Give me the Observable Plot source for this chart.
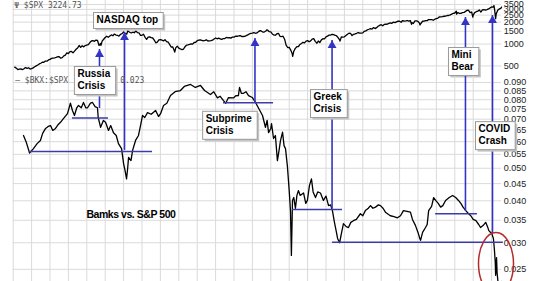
<!DOCTYPE html>
<html><head><meta charset="utf-8">
<script src="https://cdn.jsdelivr.net/npm/d3@7"></script>
<script src="https://cdn.jsdelivr.net/npm/@observablehq/plot@0.6"></script>
<style>
body{margin:0;background:#fff;}
#chart{position:relative;width:536px;height:281px;overflow:hidden;background:#fff;}
#chart svg{display:block;}
</style></head><body><div id="chart"></div>
<script>
// ---------- DATA ----------
const gridYears = d3.range(1994, 2021);
const spxTicks = [500, 1000, 1500, 2000, 2500, 3000, 3500];
const ratioTicks = [0.025, 0.030, 0.035, 0.040, 0.045, 0.050, 0.055, 0.060, 0.065, 0.070, 0.075, 0.080, 0.085, 0.090];

// S&P 500 monthly closes, one row per year starting 1994
const spxFirstYear = 1994;
const spxMonthly = [
  [481.6,467.1,445.8,450.9,456.5,444.3,458.3,475.5,462.7,472.4,453.7,459.3],
  [470.4,487.4,500.7,514.7,533.4,544.8,562.1,561.9,584.4,581.5,605.4,615.9],
  [636.0,640.4,645.5,654.2,669.1,670.6,639.9,651.9,687.3,705.3,757.0,740.7],
  [786.2,790.8,757.1,801.3,848.3,885.1,954.3,899.5,947.3,914.6,955.4,970.4],
  [980.3,1049.3,1101.8,1111.8,1090.8,1133.8,1120.7,957.3,1017.0,1098.7,1163.6,1229.2],
  [1279.6,1238.3,1286.4,1335.2,1301.8,1372.7,1328.7,1320.4,1282.7,1362.9,1388.9,1469.3],
  [1394.5,1366.4,1498.6,1452.4,1420.6,1454.6,1430.8,1517.7,1436.5,1429.4,1315.0,1320.3],
  [1366.0,1239.9,1160.3,1249.5,1255.8,1224.4,1211.2,1133.6,1040.9,1059.8,1139.5,1148.1],
  [1130.2,1106.7,1147.4,1076.9,1067.1,989.8,911.6,916.1,815.3,885.8,936.3,879.8],
  [855.7,841.2,848.2,916.9,963.6,974.5,990.3,1008.0,996.0,1050.7,1058.2,1111.9],
  [1131.1,1144.9,1126.2,1107.3,1120.7,1140.8,1101.7,1104.2,1114.6,1130.2,1173.8,1211.9],
  [1181.3,1203.6,1180.6,1156.9,1191.5,1191.3,1234.2,1220.3,1228.8,1207.0,1249.5,1248.3],
  [1280.1,1280.7,1294.8,1310.6,1270.1,1270.2,1276.7,1303.8,1335.9,1377.9,1400.6,1418.3],
  [1438.2,1406.8,1420.9,1482.4,1530.6,1503.4,1455.3,1473.9,1526.8,1549.4,1481.1,1468.4],
  [1378.6,1330.6,1322.7,1385.6,1400.4,1280.0,1267.4,1282.8,1166.4,968.8,896.2,903.3],
  [825.9,735.1,797.9,872.8,919.1,919.3,987.5,1020.6,1057.1,1036.2,1095.6,1115.1],
  [1073.9,1104.5,1169.4,1186.7,1089.4,1030.7,1101.6,1049.3,1141.2,1183.3,1180.6,1257.6],
  [1286.1,1327.2,1325.8,1363.6,1345.2,1320.6,1292.3,1218.9,1131.4,1253.3,1247.0,1257.6],
  [1312.4,1365.7,1408.5,1397.9,1310.3,1362.2,1379.3,1406.6,1440.7,1412.2,1416.2,1426.2],
  [1498.1,1514.7,1569.2,1597.6,1630.7,1606.3,1685.7,1633.0,1681.6,1756.5,1805.8,1848.4],
  [1782.6,1859.5,1872.3,1883.9,1923.6,1960.2,1930.7,2003.4,1972.3,2018.1,2067.6,2058.9],
  [1995.0,2104.5,2067.9,2085.5,2107.4,2063.1,2103.8,1972.2,1920.0,2079.4,2080.4,2043.9],
  [1940.2,1932.2,2059.7,2065.3,2096.9,2098.9,2173.6,2170.9,2168.3,2126.2,2198.8,2238.8],
  [2278.9,2363.6,2362.7,2384.2,2411.8,2423.4,2470.3,2471.7,2519.4,2575.3,2647.6,2673.6],
  [2823.8,2713.8,2640.9,2648.1,2705.3,2718.4,2816.3,2901.5,2914.0,2711.7,2760.2,2506.9],
  [2704.1,2784.5,2834.4,2945.8,2752.1,2941.8,2980.4,2926.5,2976.7,3037.6,3141.0,3230.8],
  [3225.5,2954.2,2584.6,2912.4,3044.3,3100.3]
];
// intra-month extremes (decimal year, value)
const spxExtremeDates  = [1998.77, 2000.23, 2002.78, 2007.78, 2009.19, 2010.50, 2011.76, 2015.65, 2016.11, 2018.10, 2018.72, 2018.98, 2020.13, 2020.22, 2020.54];
const spxExtremeValues = [959, 1527, 777, 1565, 677, 1022, 1099, 1867, 1829, 2581, 2931, 2351, 3386, 2237, 3224.73];

// $BKX:$SPX ratio (decimal year, value)
const ratioYears = [1994.56,1994.70,1994.89,1995.10,1995.30,1995.48,1995.60,1995.76,1995.90,1996.03,1996.15,1996.30,1996.45,1996.57,1996.75,1996.95,1997.11,1997.22,1997.33,1997.45,1997.55,1997.70,1997.82,1997.95,1998.04,1998.20,1998.31,1998.45,1998.58,1998.62,1998.75,1998.90,1999.02,1999.18,1999.30,1999.45,1999.60,1999.72,1999.89,2000.00,2000.08,2000.16,2000.22,2000.27,2000.40,2000.49,2000.65,2000.81,2000.92,2001.03,2001.15,2001.30,2001.50,2001.74,2001.90,2002.01,2002.17,2002.35,2002.55,2002.80,2003.09,2003.30,2003.64,2003.90,2004.18,2004.40,2004.72,2004.90,2005.10,2005.25,2005.43,2005.55,2005.70,2005.97,2006.10,2006.24,2006.30,2006.40,2006.52,2006.65,2006.79,2007.00,2007.17,2007.33,2007.55,2007.71,2007.80,2007.88,2008.00,2008.04,2008.15,2008.25,2008.36,2008.45,2008.53,2008.64,2008.72,2008.80,2008.90,2008.96,2009.00,2009.07,2009.12,2009.18,2009.25,2009.34,2009.42,2009.50,2009.60,2009.78,2009.90,2009.99,2010.10,2010.21,2010.30,2010.43,2010.55,2010.70,2010.86,2011.00,2011.14,2011.25,2011.35,2011.46,2011.55,2011.63,2011.74,2011.85,2011.95,2012.10,2012.22,2012.35,2012.49,2012.65,2012.87,2013.00,2013.14,2013.30,2013.42,2013.55,2013.69,2013.85,2013.96,2014.10,2014.23,2014.40,2014.50,2014.70,2014.88,2015.05,2015.21,2015.40,2015.59,2015.70,2015.86,2016.00,2016.10,2016.14,2016.25,2016.41,2016.50,2016.58,2016.74,2016.85,2016.96,2017.10,2017.23,2017.35,2017.50,2017.70,2017.88,2018.05,2018.20,2018.33,2018.45,2018.60,2018.75,2018.87,2019.00,2019.15,2019.30,2019.40,2019.55,2019.68,2019.78,2019.85,2019.95,2020.01,2020.10,2020.15,2020.20,2020.22,2020.25,2020.27,2020.30,2020.35,2020.45,2020.54];
const ratioValues = [0.0626,0.0600,0.0555,0.0572,0.0592,0.0605,0.0635,0.0657,0.0666,0.0670,0.0648,0.0657,0.0675,0.0685,0.0705,0.0727,0.0781,0.0743,0.0718,0.0756,0.0769,0.0757,0.0785,0.0756,0.0757,0.0781,0.0785,0.0763,0.0757,0.0708,0.0662,0.0694,0.0685,0.0648,0.0670,0.0638,0.0626,0.0592,0.0572,0.0516,0.0492,0.0465,0.0499,0.0539,0.0527,0.0565,0.0605,0.0626,0.0670,0.0718,0.0708,0.0732,0.0724,0.0743,0.0713,0.0727,0.0769,0.0781,0.0823,0.0845,0.0852,0.0876,0.0888,0.0870,0.0882,0.0852,0.0829,0.0845,0.0810,0.0819,0.0795,0.0781,0.0812,0.0810,0.0822,0.0823,0.0870,0.0836,0.0836,0.0845,0.0823,0.0812,0.0785,0.0756,0.0718,0.0662,0.0694,0.0638,0.0657,0.0679,0.0613,0.0626,0.0527,0.0565,0.0605,0.0640,0.0584,0.0572,0.0509,0.0460,0.0429,0.0374,0.0275,0.0401,0.0409,0.0380,0.0415,0.0429,0.0415,0.0422,0.0393,0.0401,0.0444,0.0465,0.0425,0.0409,0.0425,0.0422,0.0401,0.0413,0.0387,0.0389,0.0374,0.0345,0.0326,0.0309,0.0300,0.0322,0.0342,0.0335,0.0333,0.0345,0.0349,0.0352,0.0366,0.0361,0.0374,0.0380,0.0387,0.0380,0.0383,0.0389,0.0387,0.0380,0.0370,0.0364,0.0361,0.0359,0.0356,0.0361,0.0374,0.0372,0.0370,0.0352,0.0338,0.0322,0.0309,0.0305,0.0322,0.0333,0.0340,0.0374,0.0385,0.0409,0.0401,0.0393,0.0383,0.0387,0.0401,0.0409,0.0415,0.0409,0.0401,0.0393,0.0383,0.0374,0.0366,0.0361,0.0352,0.0349,0.0340,0.0333,0.0338,0.0345,0.0335,0.0326,0.0322,0.0320,0.0309,0.0288,0.0262,0.0240,0.0257,0.0271,0.0244,0.0229,0.0227,0.0230];

// event arrows
const arrowYears      = [1998.69, 2000.05, 2007.14, 2011.33, 2018.58, 2020.05];
const arrowRatioStart = [0.0753, 0.0565, 0.0785, 0.0378, 0.0372, 0.0319];
const arrowSpxTip     = [842, 1443, 1193, 1120, 2320, 2471];

// horizontal support lines on the ratio
const supportStart = [1994.89, 1997.22, 2005.43, 2009.18, 2011.35, 2016.96];
const supportEnd   = [2001.57, 1999.18, 2008.15, 2011.90, 2020.64, 2019.23];
const supportLevel = [0.0561, 0.0706, 0.0784, 0.0377, 0.0301, 0.0366];

// callout labels
const topLabelText  = ["NASDAQ top", "Mini\nBear"];
const topLabelYear  = [1998.53, 2017.82];
const topLabelSpx   = [2551, 843];
const botLabelText  = ["Russia\nCrisis", "Subprime\nCrisis", "Greek\nCrisis", "COVID\nCrash"];
const botLabelYear  = [1997.49, 2004.46, 2010.32, 2019.29];
const botLabelRatio = [0.0991, 0.0729, 0.0846, 0.0679];

const noteText = ["Bamks vs. S&P 500"]; const noteYear = [1997.98]; const noteRatio = [0.0366];
const circleYear = [2020.24]; const circleRatio = [0.0260];
const spxHeader = "Ψ $SPX 3224.73";
const ratioHeader = "— $BKX:$SPX";
const ratioLast = "0.023";

// ---------- BUILD ----------
const spxData = [];
spxMonthly.forEach((row, i) => row.forEach((v, m) => spxData.push({t: spxFirstYear + i + (m + 1) / 12, v})));
spxExtremeDates.forEach((t, i) => spxData.push({t, v: spxExtremeValues[i]}));
spxData.sort((a, b) => a.t - b.t);
const ratioData = ratioYears.map((t, i) => ({t, v: ratioValues[i]}));
const arrows = arrowYears.map((t, i) => ({t, start: arrowRatioStart[i], tip: arrowSpxTip[i]}));
const supports = supportStart.map((a, i) => ({a, b: supportEnd[i], y: supportLevel[i]}));
const topLabels = topLabelText.map((s, i) => ({s, t: topLabelYear[i], v: topLabelSpx[i]}));
const botLabels = botLabelText.map((s, i) => ({s, t: botLabelYear[i], v: botLabelRatio[i]}));
const notes = noteText.map((s, i) => ({s, t: noteYear[i], v: noteRatio[i]}));
const circles = circleYear.map((t, i) => ({t, v: circleRatio[i]}));

const xDomain = [1994, 2020.55];
const spxDomain = [358, 3972];
const ratioDomain = [0.0230, 0.0938];
const grid = "#dadada", arrowBlue = "#3434c4", lineBlue = "#3c3ca8", red = "#b52a2a";
const baseStyle = {background: "transparent", overflow: "visible", fontFamily: "'Liberation Sans', Arial, sans-serif", fontSize: "9px", color: "#222"};
const common = {width: 536, marginLeft: 12.7, marginRight: 34.8, marginTop: 0, marginBottom: 0,
  x: {domain: xDomain, axis: null}, style: baseStyle};
const labelFont = {fontFamily: "'Liberation Sans', Arial, sans-serif", fontWeight: "bold", fontSize: 10, lineHeight: 1.2, textAnchor: "start", lineAnchor: "top", fill: "#000"};
const monoFont = {fontFamily: "'DejaVu Sans Mono', 'Liberation Mono', monospace", fontSize: 8, fill: "#555", textAnchor: "start", lineAnchor: "top"};

const ellipseSymbol = {draw(ctx) {
  const rx = 17.5, ry = 31, k = 0.5523;
  ctx.moveTo(rx, 0);
  ctx.bezierCurveTo(rx, ry * k, rx * k, ry, 0, ry);
  ctx.bezierCurveTo(-rx * k, ry, -rx, ry * k, -rx, 0);
  ctx.bezierCurveTo(-rx, -ry * k, -rx * k, -ry, 0, -ry);
  ctx.bezierCurveTo(rx * k, -ry, rx, -ry * k, rx, 0);
  ctx.closePath();
}};

const topPlot = Plot.plot({
  ...common, height: 76,
  y: {type: "log", domain: spxDomain, axis: "right", ticks: spxTicks, tickSize: 0, tickPadding: 2, tickFormat: d3.format("d")},
  marks: [
    Plot.ruleX(gridYears, {stroke: grid}),
    Plot.ruleY(spxTicks, {stroke: grid}),
    Plot.line(spxData, {x: "t", y: "v", stroke: "#000", strokeWidth: 1.3, strokeLinejoin: "round"}),
    Plot.ruleX(arrows, {x: "t", y1: spxDomain[0], y2: "tip", stroke: arrowBlue, strokeWidth: 1.6}),
    Plot.dot(arrows, {x: "t", y: "tip", symbol: "triangle", r: 3.3, fill: arrowBlue, stroke: "none", dy: 5}),
    Plot.text(topLabels, {x: "t", y: "v", text: "s", ...labelFont}),
    Plot.text([spxHeader], {frameAnchor: "top-left", dx: 1, dy: 2, ...monoFont})
  ]
});

const botPlot = Plot.plot({
  ...common, height: 205,
  y: {type: "log", domain: ratioDomain, axis: "right", ticks: ratioTicks, tickSize: 0, tickPadding: 2, tickFormat: d3.format(".3f")},
  marks: [
    Plot.ruleX(gridYears, {stroke: grid}),
    Plot.ruleY(ratioTicks, {stroke: grid}),
    Plot.line(ratioData, {x: "t", y: "v", stroke: "#000", strokeWidth: 1.3, strokeLinejoin: "round"}),
    Plot.ruleY(supports, {x1: "a", x2: "b", y: "y", stroke: lineBlue, strokeWidth: 1.5}),
    Plot.ruleX(arrows, {x: "t", y1: "start", y2: ratioDomain[1], stroke: arrowBlue, strokeWidth: 1.6}),
    Plot.text(notes, {x: "t", y: "v", text: "s", ...labelFont, lineAnchor: "middle", fontSize: 10.5}),
    Plot.dot(circles, {x: "t", y: "v", symbol: ellipseSymbol, fill: "none", stroke: red, strokeWidth: 1.5}),
    Plot.text(botLabels, {x: "t", y: "v", text: "s", ...labelFont}),
    Plot.text([ratioHeader], {frameAnchor: "top-left", dx: 2, dy: 1, ...monoFont}),
    Plot.text([ratioLast], {frameAnchor: "top-left", dx: 107, dy: 1, ...monoFont})
  ]
});

const chart = document.getElementById("chart");
chart.appendChild(topPlot);
chart.appendChild(botPlot);

const calloutKeys = new Set([...topLabelText, ...botLabelText].map(s => s.replace(/\n/g, "")));
const noteKeys = new Set(noteText);
function boxify(svg) {
  const groups = new Set();
  d3.select(svg).selectAll("text").each(function () {
    const key = this.textContent;
    if (noteKeys.has(key)) this.style.letterSpacing = "-0.45px";
    if (!calloutKeys.has(key)) return;
    const b = this.getBBox();
    const tr = this.getAttribute("transform");
    const x = b.x - 3, y = b.y - 1.5, w = b.width + 8, h = b.height + 5;
    const p = this.parentNode;
    const sh = d3.create("svg:rect").attr("x", x + 2).attr("y", y + 2).attr("width", w).attr("height", h).attr("fill", "#c4c4c4");
    const bx = d3.create("svg:rect").attr("x", x).attr("y", y).attr("width", w).attr("height", h).attr("fill", "#fff").attr("stroke", "#9a9a9a");
    if (tr) { sh.attr("transform", tr); bx.attr("transform", tr); }
    p.insertBefore(sh.node(), this);
    p.insertBefore(bx.node(), this);
    groups.add(p);
  });
  groups.forEach(g => d3.select(g).raise());
}
boxify(topPlot);
boxify(botPlot);
</script></body></html>
